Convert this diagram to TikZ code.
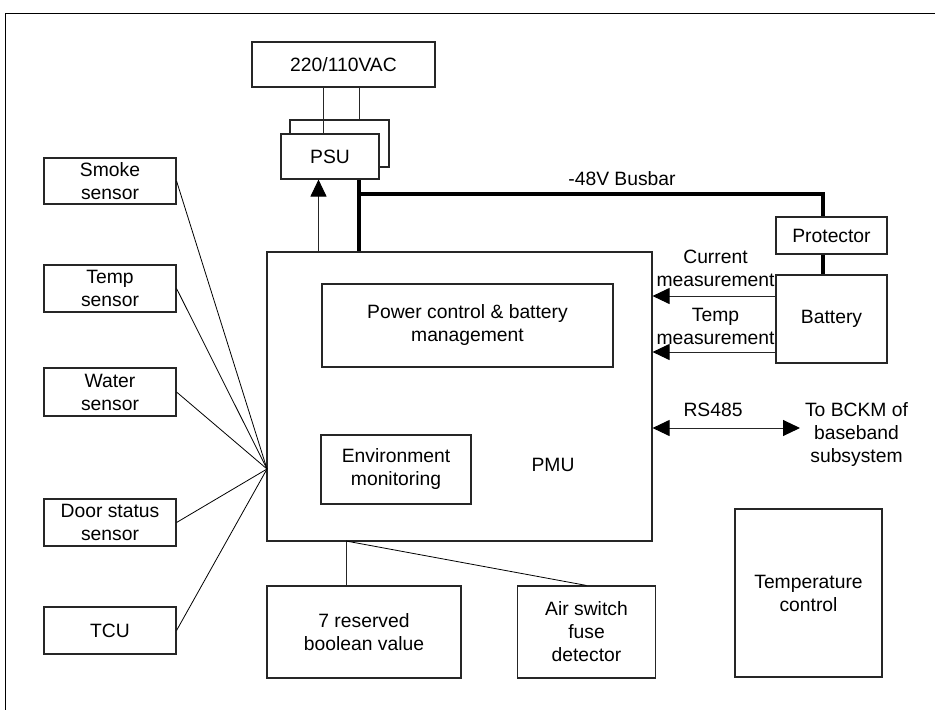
\documentclass[tikz,border=0pt]{standalone}
\usepackage{fontspec}
\setmainfont{Liberation Sans}
\usetikzlibrary{arrows.meta}
\begin{document}
\begin{tikzpicture}[x=1pt,y=-1pt,
  txt/.style={font=\fontsize{19.3}{23}\selectfont, align=center, inner sep=0pt},
  box/.style={txt, draw=black!85, line width=1.1pt, fill=white},
  wire/.style={draw=black!85, line width=1pt},
  fanline/.style={draw=black, line width=0.8pt},
  bus/.style={draw=black, line width=3.6pt, line join=miter},
  tip/.style={-{Triangle[length=17pt,width=16pt,color=black]}},
  tips/.style={{Triangle[length=17pt,width=16pt,color=black]}-{Triangle[length=17pt,width=16pt,color=black]}}
]
\useasboundingbox (0,0) rectangle (935,710);
\fill[white] (0,0) rectangle (935,710);

% open frame
\draw[line width=1pt] (935,13) -- (5,13) -- (5,710);

% mains and power supply units
\node[box, minimum width=183pt, minimum height=45pt] (vac) at (343.5,64.5) {220/110VAC};
\node[box, minimum width=99pt, minimum height=47pt] (psub) at (339.5,143.5) {};
\node[box, minimum width=98pt, minimum height=45pt] (psu) at (330,156.5) {PSU};
\draw[wire] (vac.south -| 323,0) -- (psu.north -| 323,0);
\draw[wire] (vac.south -| 359,0) -- (psub.north -| 359,0);

% PMU and its inner blocks
\node[box, minimum width=385pt, minimum height=289pt] (pmu) at (459.5,396.5) {};
\node[txt] (pmulbl) at (553,465) {PMU};
\node[box, minimum width=291pt, minimum height=83pt] (pcb) at (467.5,325.5) {Power control \& battery\\management};
\node[box, minimum width=150pt, minimum height=69pt] (env) at (396,469.5) {Environment\\monitoring};

% PMU -> PSU
\draw[wire, tip] (pmu.north -| 318.5,0) -- (psu.south -| 318.5,0);

% battery side
\node[box, minimum width=111pt, minimum height=37pt] (prot) at (831.5,235.5) {Protector};
\node[box, minimum width=111pt, minimum height=88pt] (bat) at (831.5,319) {Battery};

% -48V busbar
\coordinate (bj) at (359,194);
\coordinate (bc) at (823,194);
\draw[bus] (pmu.north -| bj) -- (psu.south -| bj);
\draw[bus] (bj) -- (bc) -- (prot.north -| bc);
\draw[bus] (prot.south -| bc) -- (bat.north -| bc);
\node[txt] (buslbl) at (622,179) {-48V Busbar};

% measurements from the battery
\draw[wire, tip] (bat.west |- 0,296) -- (pmu.east |- 0,296);
\draw[wire, tip] (bat.west |- 0,352) -- (pmu.east |- 0,352);
\node[txt] (curlbl) at (715.5,268) {Current\\measurement};
\node[txt] (tmplbl) at (715.5,326) {Temp\\measurement};

% RS485 link
\node[txt] (bckm) at (856.5,435) {To BCKM of\\baseband\\subsystem};
\coordinate (rsend) at (800,428);
\draw[wire, tips] (pmu.east |- rsend) -- (rsend);
\node[txt] (rslbl) at (713,410) {RS485};

% sensors
\node[box, minimum width=132pt, minimum height=46pt] (smoke) at (110,181) {Smoke\\sensor};
\node[box, minimum width=132pt, minimum height=47pt] (temps) at (110,288.5) {Temp\\sensor};
\node[box, minimum width=132pt, minimum height=48pt] (water) at (110,392) {Water\\sensor};
\node[box, minimum width=132pt, minimum height=47pt] (door) at (110,522.5) {Door status\\sensor};
\node[box, minimum width=132pt, minimum height=47pt] (tcu) at (110,630.5) {TCU};
\coordinate (fan) at (267,469);
\foreach \s in {smoke,temps,water,door,tcu}
  \draw[fanline] (\s.east) -- (fan);

% boolean inputs
\node[box, minimum width=194pt, minimum height=92pt] (res) at (364,632) {7 reserved\\boolean value};
\node[box, minimum width=138pt, minimum height=92pt] (air) at (586.5,632) {Air switch\\fuse\\detector};
\coordinate (pb) at (346,541);
\draw[wire] (pb) -- (res.north -| pb);
\draw[fanline] (pb) -- (air.north);

% temperature control
\node[box, minimum width=147pt, minimum height=168pt] (tctl) at (808.5,593) {Temperature\\control};
\end{tikzpicture}
\end{document}
